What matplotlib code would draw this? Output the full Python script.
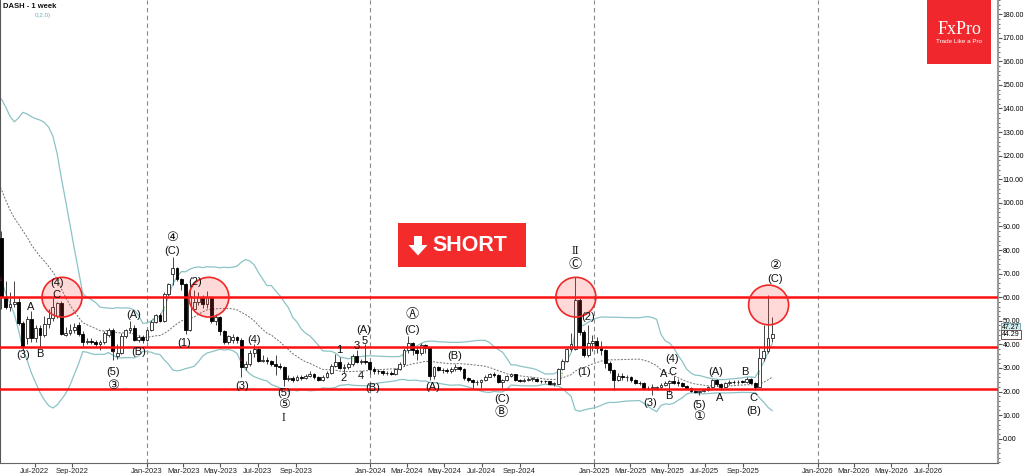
import numpy as np
import pandas as pd
import matplotlib
matplotlib.use('Agg')
import matplotlib.pyplot as plt
import matplotlib.dates as mdates
from matplotlib.patches import Ellipse, Rectangle, Polygon
from matplotlib.ticker import MultipleLocator, FixedLocator
from matplotlib.transforms import blended_transform_factory

plt.rcParams['font.family'] = ['Liberation Sans', 'DejaVu Sans', 'Noto Sans CJK JP']

# Weekly closes before the visible window (only feed the 20-week bands)
pre_close = [140, 146, 140, 126, 100, 97, 104, 108, 96, 92,
             89, 95, 104, 120, 126, 116, 110, 103, 94, 86]

# Weekly candles, first bar = week of 2022-05-08
opens = [85, 60, 56, 57, 58, 49, 42.5, 50.7, 42.5, 47,
         44, 48.5, 51, 52, 57.5, 44, 44.8, 46, 48, 44.3,
         41, 41.5, 41, 40.3, 40.8, 44, 46, 35, 36.5, 43.5,
         46, 47, 42, 43, 42, 46, 49.5, 52.5, 50, 61.5,
         70, 72.5, 67.7, 65.5, 46, 55, 58, 60, 57, 60,
         50, 51.5, 45.5, 41, 42, 43, 42, 30.5, 31.5, 36.5,
         38, 33, 33.5, 33, 31.5, 31, 30.5, 25.5, 25.6, 25,
         26, 25.8, 26.5, 27.3, 26, 25, 26.2, 28, 31, 32.5,
         30, 30.5, 31.5, 35, 32.5, 32.8, 32.5, 29.6, 28.8, 28.5,
         27.8, 27.8, 27.6, 29.6, 31.5, 37.6, 40.6, 37.6, 36.5, 39.8,
         38.5, 26.5, 30.5, 29.3, 29, 28.8, 29.5, 30.3, 29.5, 25.8,
         24.8, 24, 24, 25, 26.3, 27.5, 27, 24.2, 24.7, 26.5,
         27.3, 25, 24.6, 25, 25.3, 25.3, 24.5, 24.3, 24.3, 23.2,
         23.4, 29.5, 33, 38, 38, 58.8, 45.3, 35.3, 40.5, 41.5,
         38.5, 37.5, 32, 29, 25, 26.5, 26, 26, 24.8, 23.8,
         23.5, 21.3, 21.5, 21.6, 21.8, 22.7, 23.5, 24.5, 23.8, 23.7,
         22.4, 21.4, 20.4, 19.7, 20.2, 20.6, 21.8, 24.8, 23.1, 22.1,
         23.6, 24.2, 24, 24.2, 24.1, 25.3, 23.8, 22, 34.2, 37,
         42.5]
highs = [88, 67, 62, 67, 60, 50, 52, 54, 48, 48,
         52, 55, 60, 58, 58.5, 47.5, 48.5, 49, 49.5, 45.5,
         42.5, 42.5, 42, 42, 45.5, 47, 47, 40, 45, 46.5,
         50, 48, 44, 44, 46.5, 50.5, 53, 53.5, 62, 66,
         77, 73, 68, 66, 66, 63, 62, 61, 62.5, 60.5,
         53, 52, 46, 44, 44.5, 43.5, 42.5, 33, 37.5, 40,
         38.5, 35.5, 34.5, 33.5, 35.5, 32, 31, 27, 26.5, 27,
         27, 27.5, 28.5, 27.8, 26.5, 27, 28.5, 31.5, 36, 34.5,
         31.5, 32.5, 36, 37.5, 34, 40, 33, 30.5, 29.5, 29,
         28.8, 28.5, 30, 32.5, 38.5, 43.5, 41, 39, 40.5, 40.2,
         38.8, 31, 31, 30, 30, 30.5, 31.5, 30.8, 29.8, 26.3,
         25.5, 24.8, 25.5, 27, 28, 28.2, 27.5, 25.5, 27, 28,
         27.6, 25.5, 25.6, 26, 26, 25.8, 25, 25, 24.5, 24,
         30, 34, 38.5, 45, 68.5, 59.5, 46, 48, 44, 43,
         41.5, 38, 33, 29.5, 28, 28, 27, 26.5, 25.2, 24.3,
         24, 22.5, 23, 22.5, 23.5, 24.5, 25, 26.5, 25.3, 24,
         22.8, 21.8, 20.8, 20.6, 21, 22.5, 25.3, 25.5, 23.5, 24,
         24.8, 24.8, 24.8, 24.8, 26, 25.8, 24.2, 38.3, 48.2, 61,
         51.6]
lows = [55, 55, 54, 56, 48, 37.5, 40, 41, 41, 38.5,
        43, 47, 50, 51, 44, 43.5, 44, 45, 43.5, 39.5,
        40, 40, 39.5, 37.5, 40, 43, 33.5, 34, 36, 42.5,
        45, 41.5, 41, 40.5, 41.5, 45.5, 49, 49.5, 49.5, 60.5,
        65, 67, 63, 44.5, 45.5, 54, 56.5, 55.5, 55.5, 49,
        48, 44, 40, 40, 40.5, 40.5, 26, 29, 31, 34.5,
        32.5, 32.5, 31.5, 31, 27, 29.5, 22.5, 24.5, 24, 24.5,
        25, 25.5, 26, 25.5, 24.5, 24.5, 25.8, 27.5, 30.5, 29.5,
        28, 29.5, 31, 32, 31.5, 31.5, 27.5, 27.5, 27.5, 27,
        27, 26.8, 27, 29, 31, 36.5, 35.5, 33.5, 35.5, 36.5,
        25, 25.5, 28.5, 28, 28, 28, 28.5, 28.5, 25, 24,
        21.5, 22.8, 21.5, 24.5, 26, 26.3, 23.5, 21.5, 24.3, 26,
        24.5, 24, 24.2, 24.6, 24.6, 24, 23.8, 23.5, 22.8, 22.5,
        23, 29, 32.5, 37, 37.5, 44, 34.5, 34.8, 37, 36.5,
        35.5, 30, 28, 20.5, 24.5, 25, 24.5, 24, 23, 22.8,
        21, 20.5, 18.5, 20.5, 21, 22.3, 20, 23, 22.5, 22,
        21, 20, 19.3, 18.6, 19.8, 20.3, 21.5, 22.5, 20.8, 21.8,
        22.8, 23.3, 23.3, 23.5, 23.8, 23.3, 20.8, 21.8, 33, 36.5,
        41]
closes = [60, 56, 57, 58, 49, 39, 50.7, 42.5, 47, 44,
          48.5, 51, 56, 57.5, 44.3, 44.8, 46, 47.5, 44.3, 41,
          41.5, 41, 40.3, 40.8, 45, 46, 37, 36.5, 43.5, 46,
          47, 42, 43, 42, 46, 49.5, 52.5, 50, 61.5, 65.5,
          72.5, 67.7, 65.5, 46, 60.7, 58, 60, 57, 60, 50,
          51.5, 45.5, 41, 43.5, 43, 42, 30.5, 31.5, 36.5, 38,
          33, 33.5, 33, 31.5, 31, 30.5, 25.5, 25.6, 25, 26,
          25.8, 26.5, 27.3, 26, 25, 26.2, 28, 31, 32.5, 30,
          30.5, 31.5, 35, 32.5, 32.8, 32.5, 29.6, 28.8, 28.5, 27.8,
          27.8, 27.6, 29.6, 31.5, 37.6, 40.6, 37.6, 36.5, 39.8, 38.5,
          26.5, 30.5, 29.3, 29, 28.8, 29.5, 30.3, 29.5, 25.8, 24.8,
          24, 24, 25, 26.3, 27.5, 27, 24.2, 24.7, 26.5, 27.3,
          25, 24.6, 25, 25.3, 25.3, 24.5, 24.3, 24.3, 23.2, 23.4,
          29.5, 33, 37.9, 40, 58.8, 45.3, 35.3, 40.5, 41.5, 38.5,
          37.5, 32, 29, 25, 26.5, 26, 26, 24.8, 23.8, 23.5,
          21.3, 21.5, 21.6, 21.8, 22.7, 23.5, 24.5, 23.8, 23.7, 22.4,
          21.4, 20.4, 19.7, 20.2, 20.6, 21.8, 24.8, 23.1, 22.1, 23.6,
          24.2, 24, 24.2, 24.1, 25.3, 23.8, 22.1, 34.2, 37, 42.5,
          44.29]

levels = [60.0, 38.7, 21.0]
price_tags = [47.27, 44.29]
tick_labels = ['Jul-2022', 'Sep-2022', 'Jan-2023', 'Mar-2023', 'May-2023', 'Jul-2023',
               'Sep-2023', 'Jan-2024', 'Mar-2024', 'May-2024', 'Jul-2024', 'Sep-2024',
               'Jan-2025', 'Mar-2025', 'May-2025', 'Jul-2025', 'Sep-2025', 'Jan-2026',
               'Mar-2026', 'May-2026', 'Jul-2026']
year_starts = ['2023-01-01', '2024-01-01', '2025-01-01', '2026-01-01']

# Elliott wave marks: (text, bar index, price)
waves = [("(3)", 5, 35.5), ("B", 9, 35.9), ("A", 6.9, 55.8), ("(4)", 12.9, 66), ("C", 12.9, 60.8),
         ("(5)", 26, 28.1), ("③", 26, 22.5), ("(A)", 30.9, 52.3), ("(B)", 32, 36.9),
         ("④", 39.9, 85), ("(C)", 39.9, 79.7), ("(1)", 42.7, 40.6), ("(2)", 45.2, 66.6),
         ("(3)", 56.1, 22.5), ("(4)", 59, 41.9), ("(5)", 65.9, 19.3), ("⑤", 65.9, 14.2),
         ("1", 78.9, 37.5), ("2", 80, 25.6), ("3", 82.9, 39.3), ("4", 83.9, 26.7),
         ("5", 84.9, 41.3), ("(A)", 84.7, 46.2), ("(B)", 86.8, 21.7), ("Ⓐ", 95.8, 52.3),
         ("(C)", 95.8, 46.3), ("(A)", 100.7, 22.1), ("(B)", 105.9, 35), ("(C)", 116.8, 16.8),
         ("Ⓑ", 116.8, 10.8), ("Ⓒ", 133.9, 73.8), ("(2)", 137, 51.6),
         ("(1)", 136, 28.4), ("(3)", 151.5, 15.1), ("A", 154.7, 27.5), ("B", 155.9, 17.9),
         ("C", 156.7, 28.4), ("(4)", 156.7, 34), ("(5)", 162.9, 14.4), ("①", 162.9, 9.2),
         ("(A)", 166.8, 28.4), ("A", 167.7, 17.2), ("B", 173.7, 28.4), ("C", 175.7, 17.2),
         ("(B)", 175.7, 11.6), ("②", 180.6, 73.3), ("(C)", 180.6, 67.7)]
roman = [("I", 65.8, 8.8), ("II", 133.9, 79.7)]
up_marks = [(35.3, 49.5), (38, 54.7), (81.8, 33.3), (93.8, 34), (130.8, 27), (176.8, 27.5)]
down_marks = [(0, 67.3), (26, 36.9), (56, 33.7)]
# resistance circles: (centre date, price)
circles = [('2022-08-15', 60), ('2023-04-12', 60), ('2024-12-02', 60), ('2025-10-13', 56.7)]

start = pd.Timestamp('2022-05-08')
dates = pd.date_range(start, periods=len(closes), freq='7D')
pre_dates = pd.date_range(end=start - pd.Timedelta(days=7), periods=len(pre_close), freq='7D')
all_x = mdates.date2num(pre_dates.append(dates))
x = mdates.date2num(dates)

def bar_x(i):
    return mdates.date2num(start + pd.Timedelta(days=7 * i))

# Bollinger bands 20, 2.0
s = pd.Series(pre_close + closes, dtype=float)
mid = s.rolling(20).mean()
sd = s.rolling(20).std(ddof=0)
upper = mid + 2 * sd
lower = mid - 2 * sd

W, H = 1024, 474
fig = plt.figure(figsize=(W / 100, H / 100), dpi=100)
ax = fig.add_axes([0.0, 11 / H, 998 / W, 463 / H])

for d in year_starts:
    ax.axvline(mdates.date2num(pd.Timestamp(d)), color='#8a8a8a', lw=0.8, ls=(0, (4, 3)), zorder=1)

band_c = '#8cc3c6'
ax.plot(all_x, upper, color=band_c, lw=0.9, zorder=2)
ax.plot(all_x, lower, color=band_c, lw=0.9, zorder=2)
ax.plot(all_x, mid, color='#707070', lw=0.7, ls=(0, (2, 1.5)), zorder=2)

# candles
bw = 4.6
o = np.array(opens); h = np.array(highs); l = np.array(lows); c = np.array(closes)
ax.vlines(x, l, h, color='#444444', lw=0.7, zorder=3)
up = c >= o
body_h = np.maximum(np.abs(c - o), 0.25)
ax.bar(x[up], body_h[up], bw, bottom=np.minimum(o, c)[up], color='white',
       edgecolor='#222222', lw=0.6, zorder=4)
ax.bar(x[~up], body_h[~up], bw, bottom=np.minimum(o, c)[~up], color='black',
       edgecolor='black', lw=0.6, zorder=4)

for v in levels:
    ax.axhline(v, color='#ff1010', lw=1.8, zorder=5)

for d, v in circles:
    e = Ellipse((mdates.date2num(pd.Timestamp(d)), v), width=40 / 0.6115, height=40 / 2.375,
                facecolor=(1, 0.25, 0.25, 0.2), edgecolor='#f02828', lw=1.2, zorder=6)
    ax.add_patch(e)

circled = set('①②③④⑤ⒶⒷⒸ')
for t, i, v in waves:
    size = 9.5 if t in circled else 8
    ax.text(bar_x(i), v, t, fontsize=size, ha='center', va='center', color='#111111', zorder=7)
for t, i, v in roman:
    ax.text(bar_x(i), v, t, fontsize=8.5, ha='center', va='center', color='#111111',
            family=['Liberation Serif', 'DejaVu Serif'], zorder=7)
for i, v in up_marks:
    ax.text(bar_x(i), v, '↑', fontsize=6, ha='center', va='center', color='#2ca02c',
            fontweight='bold', zorder=7)
for i, v in down_marks:
    ax.text(bar_x(i), v, '↓', fontsize=6, ha='center', va='center', color='#d62020',
            fontweight='bold', zorder=7)

ax.set_xlim(mdates.date2num(pd.Timestamp('2022-05-05 14:00')),
            mdates.date2num(pd.Timestamp('2026-10-23')))
ax.set_ylim(-10.3, 186)

tick_pos = mdates.date2num(pd.to_datetime(tick_labels, format='%b-%Y'))
ax.xaxis.set_major_locator(FixedLocator(tick_pos))
ax.set_xticklabels(tick_labels)
ax.tick_params(axis='x', labelsize=5.5, length=3, pad=0.5, color='#555555', colors='#222222')

ax.yaxis.tick_right()
ax.set_yticks(np.arange(0, 181, 10))
ax.set_yticklabels([f'{v:.2f}' for v in np.arange(0, 181, 10)])
ax.yaxis.set_minor_locator(MultipleLocator(2))
ax.tick_params(axis='y', which='major', labelsize=5, length=3, pad=0.5, color='#555555')
ax.tick_params(axis='y', which='minor', length=1.5, color='#555555')

ax.spines['top'].set_visible(False)
ax.spines['left'].set_color('#555555')
ax.spines['left'].set_linewidth(1.5)
ax.spines['bottom'].set_color('#666666')
ax.spines['right'].set_color('#9a9a9a')
ax.spines['right'].set_linewidth(1.5)

tr = blended_transform_factory(ax.transAxes, ax.transData)
ax.text(1.004, price_tags[0], f'{price_tags[0]:.2f}', transform=tr, fontsize=5, va='center',
        ha='left', clip_on=False, zorder=8,
        bbox=dict(boxstyle='square,pad=0.12', fc='#d3eaee', ec='#6a9aa8', lw=0.6))
ax.text(1.004, price_tags[1], f'{price_tags[1]:.2f}', transform=tr, fontsize=5, va='center',
        ha='left', clip_on=False, zorder=8,
        bbox=dict(boxstyle='square,pad=0.12', fc='white', ec='#553333', lw=0.6))

# header text
def fx(px):
    return px / W

def fy(py):
    return 1 - py / H

fig.text(fx(3), fy(6.5), 'DASH - 1 week', fontsize=5.5, fontweight='bold', va='center', color='#111111')
fig.text(fx(35), fy(15), '0,2.0)', fontsize=4.5, va='center', color='#6fb0b4')

# FxPro logo
fig.add_artist(Rectangle((fx(927), fy(64)), fx(64), 64 / H, transform=fig.transFigure,
                         facecolor='#f0282d', edgecolor='none', zorder=10))
fig.text(fx(959), fy(29), 'FxPro', fontsize=13, color='white', ha='center', va='center',
         family=['Liberation Serif', 'DejaVu Serif'], zorder=11)
fig.text(fx(959), fy(41.5), 'Trade Like a Pro', fontsize=4.5, color='white', ha='center',
         va='center', zorder=11)

# SHORT badge
fig.add_artist(Rectangle((fx(397.7), fy(266.7)), fx(128), 44 / H, transform=fig.transFigure,
                         facecolor='#f42b2b', edgecolor='none', zorder=10))
arrow_px = [(414, 236), (422, 236), (422, 245), (427.5, 245), (418, 255.5), (408.5, 245), (414, 245)]
fig.add_artist(Polygon([(fx(a), fy(b)) for a, b in arrow_px], closed=True, transform=fig.transFigure,
                       facecolor='white', edgecolor='none', zorder=11))
fig.text(fx(432), fy(245.5), 'SHORT', fontsize=15.5, fontweight='bold', color='white',
         ha='left', va='center', zorder=11)

fig.savefig('out.png', dpi=100)
